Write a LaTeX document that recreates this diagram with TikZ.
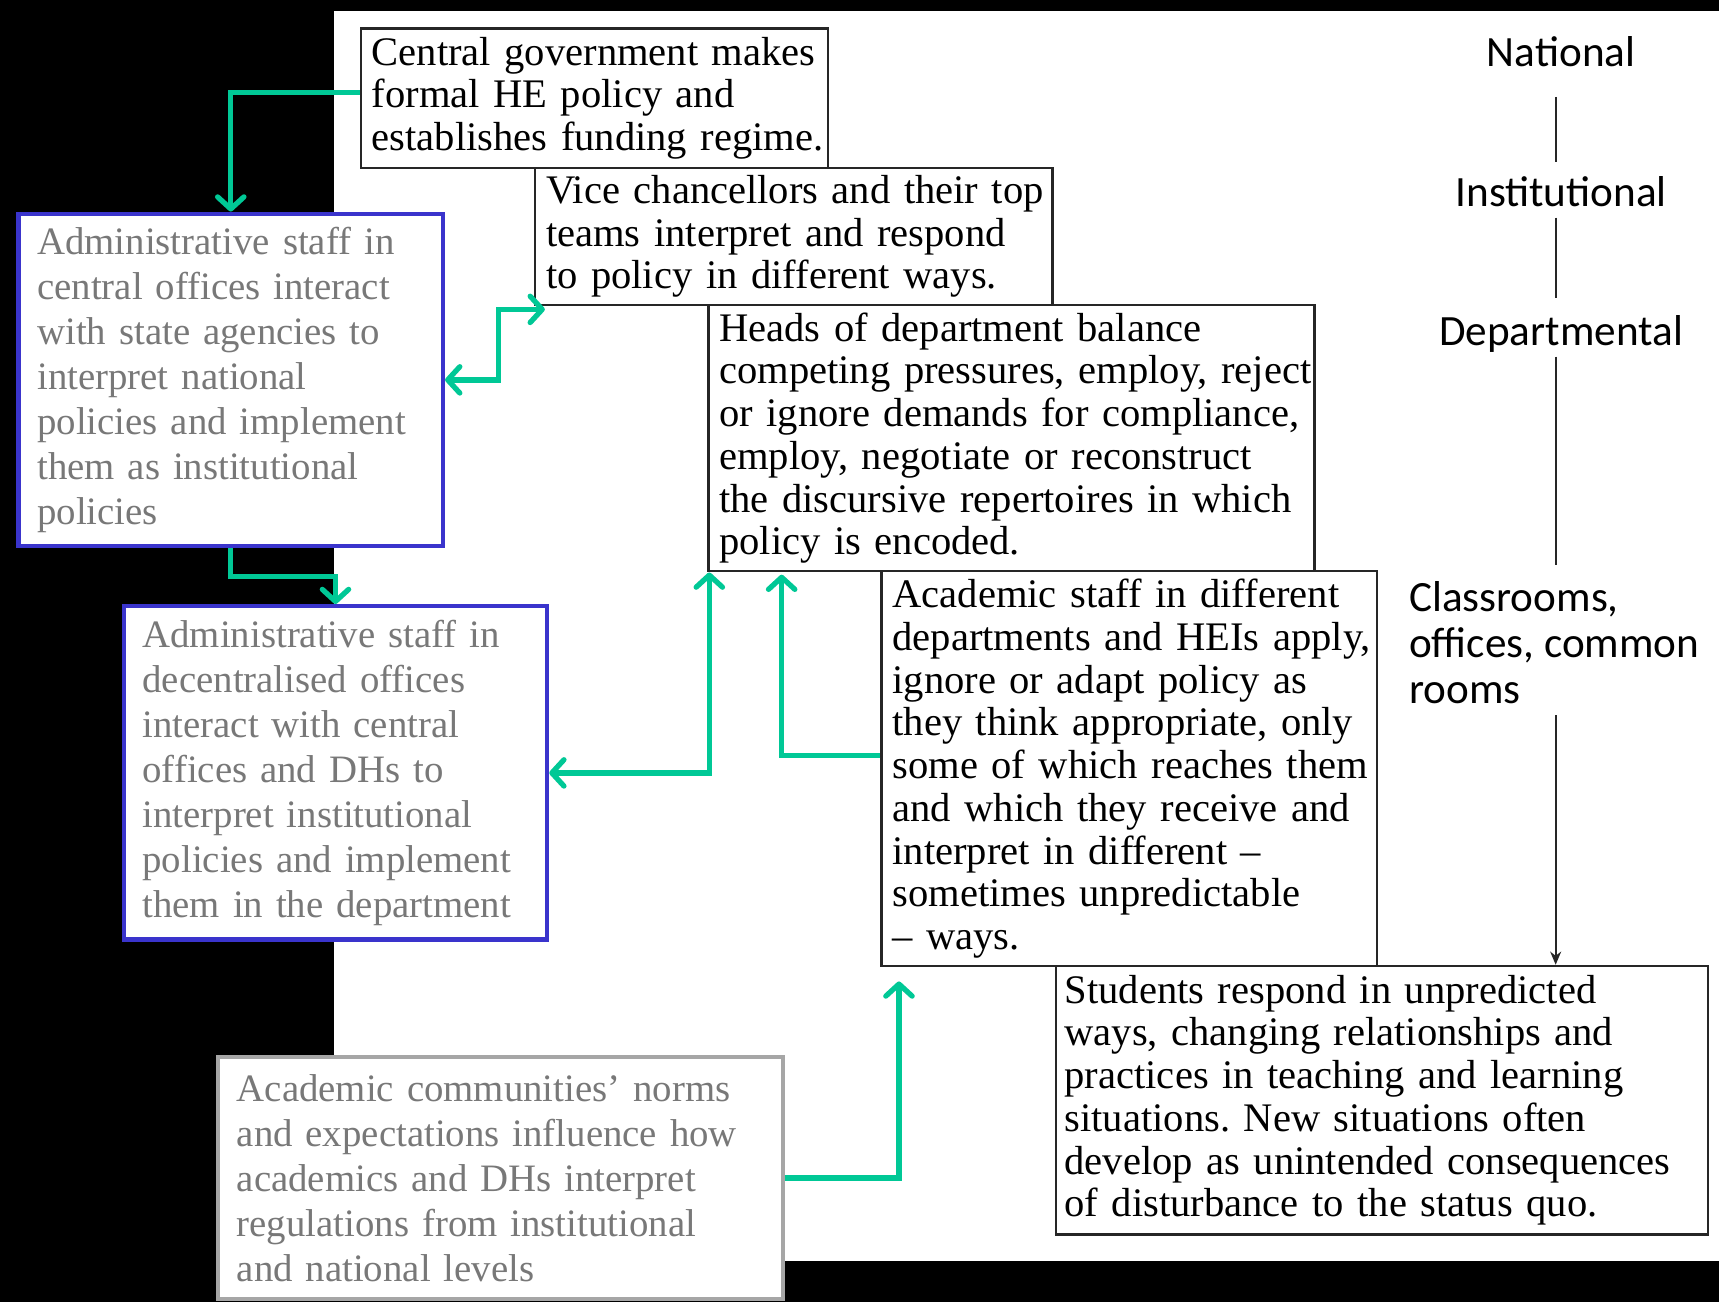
\documentclass[tikz,border=0pt]{standalone}
\usepackage{fontspec}
\setmainfont{Liberation Serif}
\newfontfamily\labfont{Carlito}
\usetikzlibrary{arrows.meta}
\definecolor{grn}{RGB}{0,200,150}
\definecolor{bluebd}{RGB}{58,52,204}
\definecolor{graybd}{RGB}{166,166,166}
\definecolor{graytx}{RGB}{120,120,120}
\frenchspacing
\tikzset{
  noshrink/.style={execute at begin node={\parindent=0pt\rightskip=0pt plus 1fil minus 40pt}},
  blackbox/.style={draw=black!85, line width=1.1pt, fill=white, anchor=north west,
    inner xsep=5pt, inner ysep=0pt, font=\fontsize{18.5}{19.5}\selectfont, noshrink},
  bluebox/.style={draw=bluebd, line width=2pt, fill=white, anchor=north west,
    inner xsep=8.5pt, inner ysep=0pt, text=graytx, font=\fontsize{17.7}{20.5}\selectfont, noshrink},
  graybox/.style={bluebox, draw=graybd},
  lab/.style={font=\labfont\fontsize{19.7}{21}\selectfont, inner sep=0pt, text height=13pt, text depth=4pt, anchor=base},
  vline/.style={draw=black!85, line width=0.9pt},
  barb/.tip={Straight Barb[length=5.5pt,width=12pt,round]},
  garrow/.style={draw=grn, line width=2.4pt, -barb},
  gboth/.style={draw=grn, line width=2.4pt, barb-barb},
}
\begin{document}
\begin{tikzpicture}[x=0.5pt,y=-0.5pt]
\useasboundingbox (0,0) rectangle (1568,1188);
\fill[black] (0,0) rectangle (1568,1188);
\fill[white] (305,10) rectangle (1568,1150);

% main boxes
\node[blackbox, minimum width=213pt, minimum height=63.5pt, text width=203pt] (cent) at (328,25)
  {Central government makes\\formal HE policy and\\establishes funding regime.};
\node[blackbox, minimum width=236pt, minimum height=62.5pt, text width=226pt] (vice) at (487,152)
  {Vice chancellors and their top\\teams interpret and respond\\to policy in different ways.};
\node[blackbox, minimum width=276.5pt, minimum height=121.5pt, text width=266.5pt] (heads) at (645,277)
  {Heads of department balance\\competing pressures, employ, reject\\or ignore demands for compliance,\\employ, negotiate or reconstruct\\the discursive repertoires in which\\policy is encoded.};
\node[blackbox, minimum width=226pt, minimum height=180pt, text width=216pt] (acad) at (803,520)
  {Academic staff in different\\departments and HEIs apply,\\ignore or adapt policy as\\they think appropriate, only\\some of which reaches them\\and which they receive and\\interpret in different --\\sometimes unpredictable\\-- ways.};
\node[blackbox, inner xsep=4pt, minimum width=297.5pt, minimum height=122.5pt, text width=289.5pt] (stud) at (962,880)
  {Students respond in unpredicted\\ways, changing relationships and\\practices in teaching and learning\\situations. New situations often\\develop as unintended consequences\\of disturbance to the status quo.};

% left boxes
\node[bluebox, minimum width=193.5pt, minimum height=151.5pt, text width=176.5pt] (admc) at (15,193)
  {Administrative staff in\\central offices interact\\with state agencies to\\interpret national\\policies and implement\\them as institutional\\policies};
\node[bluebox, minimum width=193pt, minimum height=152pt, text width=176pt] (admd) at (111,551)
  {Administrative staff in\\decentralised offices\\interact with central\\offices and DHs to\\interpret institutional\\policies and implement\\them in the department};
\node[graybox, minimum width=257.5pt, minimum height=110.5pt, text width=240.5pt] (comm) at (197,962)
  {Academic communities’ norms\\and expectations influence how\\academics and DHs interpret\\regulations from institutional\\and national levels};

% level labels
\coordinate (vx) at (1419,0);
\node[lab] (nat) at (1424,61) {National};
\node[lab] (inst) at (1424,188) {Institutional};
\node[lab] (dept) at (1424,315) {Departmental};
\node[font=\labfont\fontsize{19.7}{21}\selectfont, inner sep=0pt, anchor=north west, align=left] (cls) at (1285,530)
  {Classrooms,\\offices, common\\rooms};
\draw[vline, shorten <=9.5pt, shorten >=7pt] (nat.south -| vx) -- (inst.north -| vx);
\draw[vline, shorten <=1pt, shorten >=8.5pt] (inst.south -| vx) -- (dept.north -| vx);
\draw[vline, shorten <=1pt, shorten >=7.5pt] (dept.south -| vx) -- (cls.north -| vx);
\draw[vline, shorten <=5pt, -{Stealth[length=6pt,width=5pt]}] (cls.south -| vx) -- (stud.north -| vx);

% green connectors
\draw[garrow] ([yshift=2.5pt]cent.west) -| (admc.north);
\draw[gboth] (admc.east) -- ++(24.5pt,0) |- ([xshift=5pt,yshift=-1.5pt]vice.south west);
\draw[garrow] (admc.south) -- ++(0,-13pt) -| (admd.north);
\draw[gboth] (admd.east) -| ([xshift=1pt]heads.south west);
\draw[garrow] ([yshift=6pt]acad.west) -| ([xshift=34pt,yshift=-1pt]heads.south west);
\draw[garrow] (comm.east) -| ([xshift=8.5pt,yshift=-6.5pt]acad.south west);
\end{tikzpicture}
\end{document}
